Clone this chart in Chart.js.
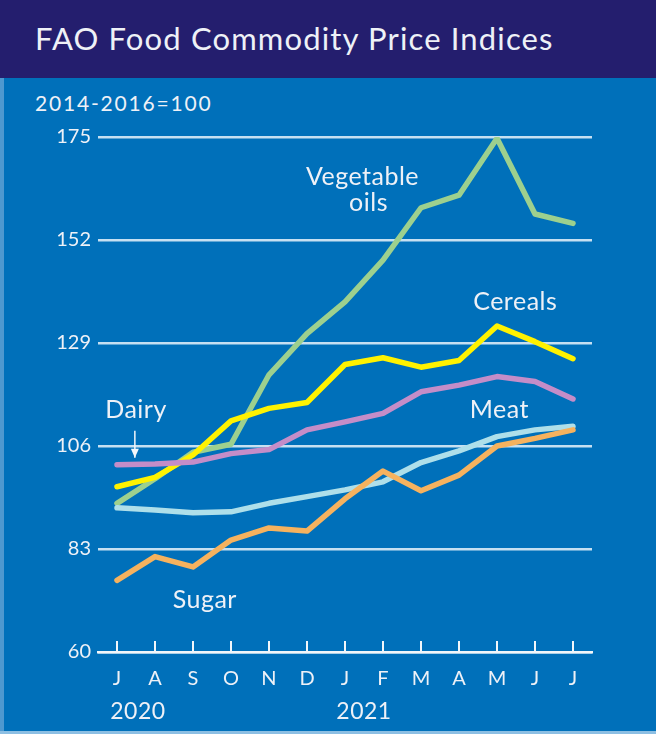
<!DOCTYPE html>
<html>
<head>
<meta charset="utf-8">
<script src="https://cdn.jsdelivr.net/npm/chart.js@4/dist/chart.umd.min.js"></script>
<style>
  html, body { margin: 0; padding: 0; background: #0070BA; }
  #wrap { position: relative; width: 656px; height: 734px; overflow: hidden; background: #0070BA; }
  #titlebar { position: absolute; left: 0; top: 0; width: 656px; height: 78px; background: #241E6E; }
  #title { position: absolute; left: 35px; top: 19px; font-family: Lato, "Open Sans", sans-serif; font-size: 31px; letter-spacing: 1.15px; color: #EEF1F7; white-space: nowrap; }
  #unit { position: absolute; left: 35px; top: 90px; font-family: Lato, "Open Sans", sans-serif; font-size: 21px; letter-spacing: 1.8px; color: #EEF1F7; white-space: nowrap; }
  #canvasBox { position: absolute; left: 0; top: 78px; width: 656px; height: 656px; }
  #edgeL { position: absolute; left: 0; top: 78px; width: 4px; height: 656px; background: #6FA9D8; opacity: 0.7; }
  #edgeB { position: absolute; left: 0; top: 731px; width: 656px; height: 3px; background: #8DBFE3; }
</style>
</head>
<body>
<div id="wrap">
  <div id="titlebar"><div id="title">FAO Food Commodity Price Indices</div></div>
  <div id="unit">2014-2016=100</div>
  <div id="canvasBox"><canvas id="c" width="656" height="656"></canvas></div>
  <div id="edgeL"></div>
  <div id="edgeB"></div>
</div>
<script>
// ---- data ----
const months = ["J", "A", "S", "O", "N", "D", "J", "F", "M", "A", "M", "J", "J"];
const yearLabels = ["2020", "2021"];
const vegetableOils = [93.2, 98.7, 104.6, 106.4, 121.9, 131.1, 138.2, 147.5, 159.2, 162.0, 174.7, 157.8, 155.7];
const cereals = [96.9, 99.0, 104.0, 111.6, 114.4, 115.7, 124.2, 125.7, 123.6, 125.1, 132.8, 129.3, 125.5];
const dairy = [101.8, 102.0, 102.4, 104.3, 105.2, 109.6, 111.4, 113.3, 118.1, 119.6, 121.5, 120.4, 116.5];
const meat = [92.2, 91.7, 91.1, 91.3, 93.2, 94.7, 96.2, 98.0, 102.3, 104.9, 108.1, 109.6, 110.4];
const sugar = [76.0, 81.3, 79.0, 85.0, 87.7, 87.0, 94.2, 100.4, 96.0, 99.5, 106.0, 107.7, 109.6];
const yTicks = [60, 83, 106, 129, 152, 175];

const FONT = 'Lato, "Open Sans", sans-serif';
const TEXT = '#EEF1F7';

// label annotations (in data coordinates: category index, value)
const seriesLabels = [
  { text: "Vegetable", x: 6.46, y: 166.1 },
  { text: "oils", x: 6.62, y: 160.3 },
  { text: "Cereals", x: 10.48, y: 138.2 },
  { text: "Dairy", x: 0.5, y: 114.0 },
  { text: "Meat", x: 10.06, y: 114.0 },
  { text: "Sugar", x: 2.31, y: 71.6 }
];
const yearPos = [0.55, 6.5];
const dairyArrow = { x: 0.47, from: 109.4, to: 103.4 };

const overlay = {
  id: 'overlay',
  afterDraw(chart) {
    const { ctx, scales: { x, y }, chartArea } = chart;
    const step = x.getPixelForValue(1) - x.getPixelForValue(0);
    const xAt = v => x.getPixelForValue(0) + step * v;
    ctx.save();
    // upward tick marks on the x axis
    ctx.strokeStyle = '#F2F6FA';
    ctx.lineWidth = 2;
    months.forEach((m, i) => {
      const px = x.getPixelForValue(i);
      ctx.beginPath();
      ctx.moveTo(px, chartArea.bottom);
      ctx.lineTo(px, chartArea.bottom - 11);
      ctx.stroke();
    });
    // series labels
    ctx.fillStyle = TEXT;
    ctx.font = '25px ' + FONT;
    try { ctx.letterSpacing = '0.5px'; } catch (e) {}
    ctx.textAlign = 'center';
    ctx.textBaseline = 'middle';
    seriesLabels.forEach(l => ctx.fillText(l.text, xAt(l.x), y.getPixelForValue(l.y)));
    // year labels
    ctx.font = '23px ' + FONT;
    yearLabels.forEach((t, i) => ctx.fillText(t, xAt(yearPos[i]), chartArea.bottom + 60));
    try { ctx.letterSpacing = '0px'; } catch (e) {}
    // dairy arrow
    const ax = xAt(dairyArrow.x);
    const ay1 = y.getPixelForValue(dairyArrow.from);
    const ay2 = y.getPixelForValue(dairyArrow.to);
    ctx.strokeStyle = '#F2F6FA';
    ctx.lineWidth = 1.5;
    ctx.beginPath();
    ctx.moveTo(ax, ay1);
    ctx.lineTo(ax, ay2);
    ctx.stroke();
    ctx.fillStyle = '#F2F6FA';
    ctx.beginPath();
    ctx.moveTo(ax - 4, ay2 - 9);
    ctx.lineTo(ax + 4, ay2 - 9);
    ctx.lineTo(ax, ay2);
    ctx.closePath();
    ctx.fill();
    ctx.restore();
  }
};

const lineDs = (label, data, color) => ({
  label, data, borderColor: color, backgroundColor: color,
  borderWidth: 5.5, pointRadius: 0, tension: 0, fill: false,
  borderCapStyle: 'round', borderJoinStyle: 'round'
});

new Chart(document.getElementById('c'), {
  type: 'line',
  data: {
    labels: months,
    datasets: [
      lineDs('Sugar', sugar, '#F6B25E'),
      lineDs('Dairy', dairy, '#C48DC8'),
      lineDs('Cereals', cereals, '#FFF200'),
      lineDs('Meat', meat, '#AEDFEA'),
      lineDs('Vegetable oils', vegetableOils, '#9DD08E')
    ]
  },
  options: {
    responsive: false,
    animation: false,
    layout: { padding: { top: 59, right: 64, left: 0, bottom: 0 } },
    plugins: { legend: { display: false }, tooltip: { enabled: false }, title: { display: false } },
    scales: {
      x: {
        offset: true,
        grid: { display: false, drawTicks: false },
        border: { display: true, color: '#F2F6FA', width: 2.5 },
        ticks: { color: TEXT, font: { family: FONT, size: 20 }, padding: 15, maxRotation: 0, autoSkip: false },
        afterFit: s => { s.height = 82; }
      },
      y: {
        min: 60, max: 175,
        afterBuildTicks: s => { s.ticks = yTicks.map(v => ({ value: v })); },
        grid: { color: '#C6E0F2', lineWidth: 2.5, drawTicks: false },
        border: { display: false },
        ticks: { color: TEXT, font: { family: FONT, size: 20 }, padding: 7 },
        afterFit: s => { s.width = 98; }
      }
    }
  },
  plugins: [overlay]
});
</script>
</body>
</html>
